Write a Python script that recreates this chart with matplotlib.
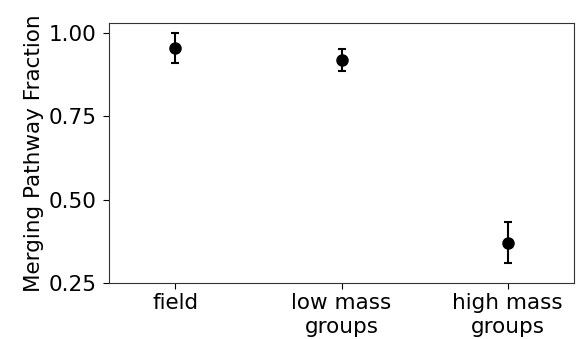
import numpy as np
import matplotlib
matplotlib.use("Agg")
import matplotlib.pyplot as plt

categorias = ["field", "low mass\ngroups", "high mass\ngroups"]
fraccion = [0.955, 0.919, 0.370]
err_bajo = [0.045, 0.034, 0.059]
err_alto = [0.045, 0.034, 0.062]

fig = plt.figure(figsize=(5.79, 3.39), dpi=100)
ax = fig.add_axes([109/579, 1 - 283/339, 465/579, 260/339])

x = np.arange(len(categorias))
ax.errorbar(x, fraccion, yerr=[err_bajo, err_alto], fmt='o', color='black',
            markersize=8, capsize=3, elinewidth=1.5, capthick=1.5)

ax.set_xlim(-0.4, 2.4)
ax.set_ylim(0.25, 1.03)
ax.set_yticks([0.25, 0.50, 0.75, 1.00])
ax.set_yticklabels(["0.25", "0.50", "0.75", "1.00"])
ax.set_xticks(x)
ax.set_xticklabels(categorias)
ax.tick_params(labelsize=15.5, length=4)
ax.tick_params(axis='y', pad=5)
for s in ax.spines.values():
    s.set_color('#333333')
ax.set_ylabel("Merging Pathway Fraction", fontsize=15.5, labelpad=3)

fig.savefig("out.png", dpi=100)
